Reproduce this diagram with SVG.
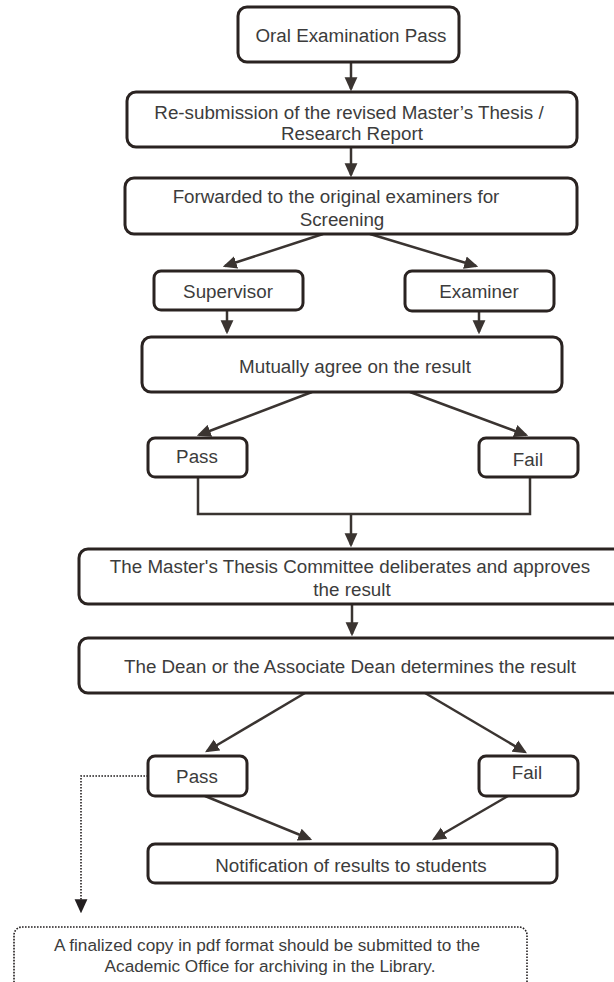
<svg xmlns="http://www.w3.org/2000/svg" width="614" height="982" viewBox="0 0 614 982">
<style>
.box{fill:#fff;stroke:#2a2321;stroke-width:3}
.t{font-family:"Liberation Sans",Arial,sans-serif;font-size:18.8px;fill:#3c3c3c;text-anchor:middle}
.s{font-size:17.2px}
.ln{stroke:#3a3431;stroke-width:2.5;fill:none}
.dot{stroke:#231f20;stroke-width:1.6;fill:none;stroke-dasharray:1.6 1.4}
</style>
<defs>
<marker id="ah" markerUnits="userSpaceOnUse" markerWidth="14" markerHeight="14" viewBox="0 0 12 12" refX="10" refY="6" orient="auto">
<path d="M0,0.5 L12,6 L0,11.5 z" fill="#3a3431"/>
</marker>
<marker id="ahd" markerUnits="userSpaceOnUse" markerWidth="14" markerHeight="14" viewBox="0 0 12 12" refX="10" refY="6" orient="auto">
<path d="M0,0.5 L12,6 L0,11.5 z" fill="#231f20"/>
</marker>
</defs>
<rect width="614" height="982" fill="#fff"/>
<g id="connectors">
<line class="ln" x1="351" y1="62" x2="351" y2="89" marker-end="url(#ah)"/>
<line class="ln" x1="351" y1="147" x2="351" y2="175" marker-end="url(#ah)"/>
<line class="ln" x1="323" y1="234" x2="225" y2="266" marker-end="url(#ah)"/>
<line class="ln" x1="370" y1="234" x2="476" y2="266" marker-end="url(#ah)"/>
<line class="ln" x1="227" y1="310" x2="227" y2="332" marker-end="url(#ah)"/>
<line class="ln" x1="479" y1="311" x2="479" y2="332" marker-end="url(#ah)"/>
<line class="ln" x1="312" y1="392" x2="199" y2="435" marker-end="url(#ah)"/>
<line class="ln" x1="410" y1="392" x2="526" y2="435" marker-end="url(#ah)"/>
<polyline class="ln" points="198,477 198,514 530,514 530,477"/>
<line class="ln" x1="351" y1="514" x2="351" y2="545" marker-end="url(#ah)"/>
<line class="ln" x1="352" y1="604" x2="352" y2="634" marker-end="url(#ah)"/>
<line class="ln" x1="305" y1="693" x2="207" y2="751" marker-end="url(#ah)"/>
<line class="ln" x1="425" y1="693" x2="525" y2="752" marker-end="url(#ah)"/>
<line class="ln" x1="205" y1="796" x2="310" y2="839" marker-end="url(#ah)"/>
<line class="ln" x1="508" y1="796" x2="434" y2="839" marker-end="url(#ah)"/>
<polyline class="dot" points="148,776 81,776 81,911" marker-end="url(#ahd)"/>
</g>
<g id="oral">
<rect class="box" x="238" y="7" width="221" height="55" rx="9"/>
<text class="t" x="351" y="42">Oral Examination Pass</text>
</g>
<g id="resubmission">
<rect class="box" x="127" y="92" width="450" height="55" rx="9"/>
<text class="t" x="349" y="119">Re-submission of the revised Master’s Thesis /</text>
<text class="t" x="352" y="140">Research Report</text>
</g>
<g id="forwarded">
<rect class="box" x="125" y="178" width="452" height="56" rx="9"/>
<text class="t" x="336" y="203">Forwarded to the original examiners for</text>
<text class="t" x="342" y="226">Screening</text>
</g>
<g id="supervisor">
<rect class="box" x="154" y="271" width="149" height="39" rx="7"/>
<text class="t" x="228" y="298">Supervisor</text>
</g>
<g id="examiner">
<rect class="box" x="405" y="271" width="149" height="40" rx="7"/>
<text class="t" x="479" y="298">Examiner</text>
</g>
<g id="mutually">
<rect class="box" x="142" y="337" width="420" height="55" rx="9"/>
<text class="t" x="355" y="373">Mutually agree on the result</text>
</g>
<g id="pass1">
<rect class="box" x="148" y="438" width="99" height="39" rx="7"/>
<text class="t" x="197" y="463">Pass</text>
</g>
<g id="fail1">
<rect class="box" x="479" y="438" width="99" height="39" rx="7"/>
<text class="t" x="528" y="466">Fail</text>
</g>
<g id="committee">
<rect class="box" x="79" y="549" width="546" height="55" rx="9"/>
<text class="t" x="350" y="573">The Master's Thesis Committee deliberates and approves</text>
<text class="t" x="352" y="596">the result</text>
</g>
<g id="dean">
<rect class="box" x="79" y="638" width="546" height="55" rx="9"/>
<text class="t" x="350" y="673">The Dean or the Associate Dean determines the result</text>
</g>
<g id="pass2">
<rect class="box" x="148" y="756" width="99" height="40" rx="7"/>
<text class="t" x="197" y="783">Pass</text>
</g>
<g id="fail2">
<rect class="box" x="479" y="756" width="99" height="40" rx="7"/>
<text class="t" x="527" y="779">Fail</text>
</g>
<g id="notification">
<rect class="box" x="148" y="844" width="409" height="39" rx="7"/>
<text class="t" x="351" y="872">Notification of results to students</text>
</g>
<g id="archive">
<rect class="dot" x="14" y="927" width="513" height="70" rx="8"/>
<text class="t s" x="267" y="951">A finalized copy in pdf format should be submitted to the</text>
<text class="t s" x="270" y="972">Academic Office for archiving in the Library.</text>
</g>
</svg>
